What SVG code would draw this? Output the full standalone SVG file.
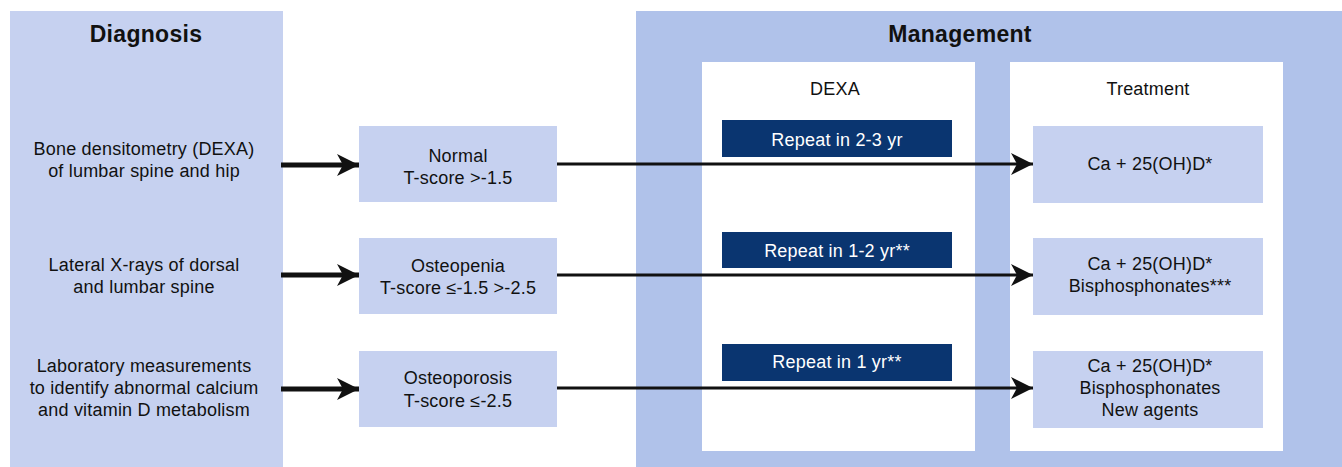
<svg xmlns="http://www.w3.org/2000/svg" width="1342" height="467" viewBox="0 0 1342 467">
<style>
text{font-family:"Liberation Sans",Arial,sans-serif;font-size:18px;fill:#111;text-anchor:middle;letter-spacing:0.2px}
.h{font-size:23px;font-weight:bold;letter-spacing:0.3px}
.w{fill:#fff}
.lb{fill:#c6d1f0}
.db{fill:#0a3570}
.thick{stroke:#111;stroke-width:5;fill:none}
.thin{stroke:#111;stroke-width:3;fill:none}
</style>
<defs>
<marker id="ah" markerUnits="userSpaceOnUse" markerWidth="24" markerHeight="24" refX="22" refY="12" orient="auto">
<path d="M0,1 L22,12 L0,23 L6,12 Z" fill="#111"/>
</marker>
</defs>
<g id="diagnosis">
<rect x="10" y="11" width="273" height="456" class="lb"/>
<text x="146" y="42" class="h">Diagnosis</text>
<text x="144" y="155">Bone densitometry (DEXA)</text>
<text x="144" y="177">of lumbar spine and hip</text>
<text x="144" y="271">Lateral X-rays of dorsal</text>
<text x="144" y="293">and lumbar spine</text>
<text x="144" y="372">Laboratory measurements</text>
<text x="144" y="394">to identify abnormal calcium</text>
<text x="144" y="416">and vitamin D metabolism</text>
</g>
<g id="management">
<rect x="636" y="11" width="706" height="456" fill="#b0c2ea"/>
<text x="960" y="42" class="h">Management</text>
</g>
<g id="dexa">
<rect x="702" y="62" width="273" height="389" class="w"/>
<text x="835" y="95">DEXA</text>
</g>
<g id="treatment">
<rect x="1010" y="62" width="273" height="389" class="w"/>
<text x="1148" y="95">Treatment</text>
</g>
<g id="normal">
<rect x="359" y="126" width="198" height="76" class="lb"/>
<text x="458" y="162">Normal</text>
<text x="458" y="184">T-score &gt;-1.5</text>
</g>
<g id="osteopenia">
<rect x="359" y="238" width="198" height="76" class="lb"/>
<text x="458" y="272">Osteopenia</text>
<text x="458" y="294">T-score ≤-1.5 &gt;-2.5</text>
</g>
<g id="osteoporosis">
<rect x="359" y="351" width="198" height="76" class="lb"/>
<text x="458" y="384">Osteoporosis</text>
<text x="458" y="407">T-score ≤-2.5</text>
</g>
<g id="connectors">
<line x1="281" y1="165" x2="359" y2="165" class="thick" marker-end="url(#ah)"/>
<line x1="281" y1="275" x2="359" y2="275" class="thick" marker-end="url(#ah)"/>
<line x1="281" y1="389" x2="359" y2="389" class="thick" marker-end="url(#ah)"/>
<line x1="557" y1="164" x2="1033" y2="164" class="thin" marker-end="url(#ah)"/>
<line x1="557" y1="275" x2="1033" y2="275" class="thin" marker-end="url(#ah)"/>
<line x1="557" y1="388" x2="1033" y2="388" class="thin" marker-end="url(#ah)"/>
</g>
<g id="repeat1">
<rect x="722" y="120" width="230" height="37" class="db"/>
<text x="837" y="146" class="w">Repeat in 2-3 yr</text>
</g>
<g id="repeat2">
<rect x="722" y="232" width="230" height="36" class="db"/>
<text x="837" y="257" class="w">Repeat in 1-2 yr**</text>
</g>
<g id="repeat3">
<rect x="722" y="344" width="230" height="37" class="db"/>
<text x="837" y="368" class="w">Repeat in 1 yr**</text>
</g>
<g id="treat1">
<rect x="1033" y="126" width="230" height="77" class="lb"/>
<text x="1150" y="170">Ca + 25(OH)D*</text>
</g>
<g id="treat2">
<rect x="1033" y="238" width="230" height="77" class="lb"/>
<text x="1150" y="270">Ca + 25(OH)D*</text>
<text x="1150" y="292">Bisphosphonates***</text>
</g>
<g id="treat3">
<rect x="1033" y="351" width="230" height="77" class="lb"/>
<text x="1150" y="372">Ca + 25(OH)D*</text>
<text x="1150" y="394">Bisphosphonates</text>
<text x="1150" y="416">New agents</text>
</g>
</svg>
